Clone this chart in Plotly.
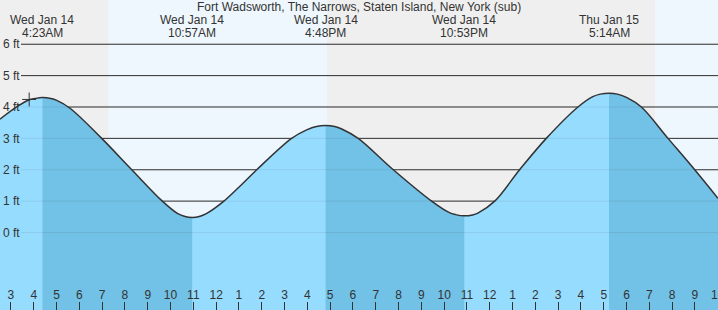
import plotly.graph_objects as go

TITLE = "Fort Wadsworth, The Narrows, Staten Island, New York (sub)"

# Tide readings: hours since midnight Wed Jan 14, height in ft
TIDE_HOURS = [2.52, 3.25, 3.8, 4.05, 4.383, 4.75, 5.01, 5.59, 6.98, 8.30, 9.64,
              10.3, 10.6, 10.95, 11.3, 11.59, 12.34, 13.02, 13.78, 15.31, 15.97,
              16.4, 16.8, 17.2, 17.51, 18.23, 19.77, 21.45, 22.21, 22.5, 22.883,
              23.25, 23.48, 24.22, 25.31, 26.48, 27.87, 28.52, 28.85, 29.233,
              29.6, 30.02, 30.65, 31.82, 32.99, 34.01]
TIDE_FT = [3.61, 4.0, 4.23, 4.27, 4.30, 4.27, 4.21, 3.96, 3.0, 2.0, 1.0,
           0.61, 0.52, 0.48, 0.52, 0.61, 1.0, 1.46, 2.0, 3.0, 3.27,
           3.38, 3.41, 3.38, 3.30, 3.0, 2.0, 1.0, 0.64, 0.57, 0.53,
           0.56, 0.62, 1.0, 2.0, 3.0, 4.0, 4.33, 4.41, 4.44,
           4.41, 4.30, 4.0, 3.0, 2.0, 1.09]

EVENT_HOURS = [4.383, 10.95, 16.8, 22.883, 29.233]
EVENT_KIND = ["high", "low", "high", "low", "high"]
EVENT_DAYS = ["Wed Jan 14", "Wed Jan 14", "Wed Jan 14", "Wed Jan 14", "Thu Jan 15"]
EVENT_TIMES = ["4:23AM", "10:57AM", "4:48PM", "10:53PM", "5:14AM"]

DAYLIGHT_START = [7.27, 31.25]
DAYLIGHT_END = [16.86, 34.5]

HOUR_TICKS = list(range(3, 35))
HOUR_LABELS = ["3", "4", "5", "6", "7", "8", "9", "10", "11", "12",
               "1", "2", "3", "4", "5", "6", "7", "8", "9", "10", "11", "12",
               "1", "2", "3", "4", "5", "6", "7", "8", "9", "10"]
MIDNIGHT_TICKS = [24]
FT_TICKS = [0, 1, 2, 3, 4, 5, 6]
FT_LABELS = ["0 ft", "1 ft", "2 ft", "3 ft", "4 ft", "5 ft", "6 ft"]

NOW_HOUR = [3.8]
NOW_FT = [4.24]

# ---- layout constants ----
W, H = 718, 310
PX_PER_HOUR = 22.8
X0 = 2.52
X1 = X0 + W / PX_PER_HOUR
Y0, Y1 = -2.47, 7.41
GRID_X0 = X0 + 21 / PX_PER_HOUR

NIGHT = "#efefef"
DAY = "#eef7fe"
LIGHT = "#96dcff"
DARK = "#72c1e6"
INK = "#333333"
FONT = "Liberation Sans, Arial, sans-serif"

fig = go.Figure()

# light fill (whole curve) on main subplot
fig.add_trace(go.Scatter(x=[X0, X1], y=[Y0, Y0], mode="lines", line=dict(width=0),
                         hoverinfo="skip", showlegend=False, xaxis="x", yaxis="y"))
fig.add_trace(go.Scatter(x=TIDE_HOURS, y=TIDE_FT, mode="lines", fill="tonexty",
                         fillcolor=LIGHT, line=dict(width=0, shape="spline"),
                         hoverinfo="skip", showlegend=False, xaxis="x", yaxis="y"))

# falling-tide segments (high -> next low) in darker blue, clipped by subplot domain
layout_axes = {}
ax_n = 2
for i, kind in enumerate(EVENT_KIND):
    if kind != "high":
        continue
    a = EVENT_HOURS[i]
    b = EVENT_HOURS[i + 1] if i + 1 < len(EVENT_HOURS) else X1
    b = min(b, X1)
    d0 = (a - X0) / (X1 - X0)
    d1 = (b - X0) / (X1 - X0)
    name = "x%d" % ax_n
    fig.add_trace(go.Scatter(x=[X0, X1], y=[Y0, Y0], mode="lines", line=dict(width=0),
                             hoverinfo="skip", showlegend=False, xaxis=name, yaxis="y"))
    fig.add_trace(go.Scatter(x=TIDE_HOURS, y=TIDE_FT, mode="lines", fill="tonexty",
                             fillcolor=DARK, line=dict(width=0, shape="spline"),
                             hoverinfo="skip", showlegend=False, xaxis=name, yaxis="y"))
    layout_axes["xaxis%d" % ax_n] = dict(domain=[d0, min(d1, 1)], range=[a, b],
                                         anchor="y", visible=False, fixedrange=True,
                                         automargin=False)
    ax_n += 1

TOP = ax_n  # top-most regular subplot: curve line, marker, hour ticks
top_name = "x%d" % TOP
fig.add_trace(go.Scatter(x=TIDE_HOURS, y=TIDE_FT, mode="lines",
                         line=dict(color=INK, width=1.5, shape="spline"),
                         hoverinfo="skip", showlegend=False, xaxis=top_name, yaxis="y"))
fig.add_trace(go.Scatter(x=NOW_HOUR, y=NOW_FT, mode="markers",
                         marker=dict(symbol="cross-thin", size=10,
                                     line=dict(color=INK, width=1)),
                         hoverinfo="skip", showlegend=False, xaxis=top_name, yaxis="y"))
# invisible carrier for the ft labels axis
fig.add_trace(go.Scatter(x=[X0], y=[Y0], mode="markers", marker=dict(opacity=0),
                         hoverinfo="skip", showlegend=False, xaxis="x", yaxis="y2"))

layout_axes["xaxis%d" % TOP] = dict(
    domain=[0, 1], range=[X0, X1], anchor="y", side="bottom",
    tickmode="array", tickvals=HOUR_TICKS, ticktext=HOUR_LABELS,
    ticks="inside", ticklen=8, tickwidth=1, tickcolor=INK,
    ticklabelposition="inside", ticklabeloverflow="allow", automargin=False,
    tickfont=dict(family=FONT, size=12, color=INK),
    showgrid=False, zeroline=False, showline=False, fixedrange=True)
layout_axes["xaxis%d" % (TOP + 1)] = dict(
    overlaying=top_name, range=[X0, X1], anchor="y", side="bottom",
    tickmode="array", tickvals=MIDNIGHT_TICKS, ticks="inside", ticklen=8,
    tickwidth=3, tickcolor=INK, showticklabels=False, automargin=False,
    showgrid=False, zeroline=False, showline=False, fixedrange=True)

shapes = []
for s, e in zip(DAYLIGHT_START, DAYLIGHT_END):
    shapes.append(dict(type="rect", xref="x", yref="paper", x0=s, x1=e, y0=0, y1=1,
                       fillcolor=DAY, line=dict(width=0), layer="below"))
for k in FT_TICKS:
    shapes.append(dict(type="line", xref="x", yref="y", x0=GRID_X0, x1=X1, y0=k, y1=k,
                       line=dict(color=INK, width=1), layer="below"))
for k in FT_TICKS:
    shapes.append(dict(type="line", xref="x", yref="y", x0=GRID_X0, x1=X1, y0=k, y1=k,
                       line=dict(color="rgba(40,40,40,0.09)", width=1), layer="above"))

annotations = [dict(text=TITLE, xref="paper", yref="paper", x=0.5, y=1 - 7.5 / H,
                    xanchor="center", yanchor="middle", showarrow=False,
                    font=dict(family=FONT, size=12, color=INK))]
for t, d, tm in zip(EVENT_HOURS, EVENT_DAYS, EVENT_TIMES):
    annotations.append(dict(text=d, xref="x", yref="paper", x=t, y=1 - 20 / H,
                            xanchor="center", yanchor="middle", showarrow=False,
                            font=dict(family=FONT, size=12, color=INK)))
    annotations.append(dict(text=tm, xref="x", yref="paper", x=t, y=1 - 32.5 / H,
                            xanchor="center", yanchor="middle", showarrow=False,
                            font=dict(family=FONT, size=12, color=INK)))

fig.update_layout(
    width=W, height=H, autosize=False,
    margin=dict(l=0, r=0, t=0, b=0, pad=0, autoexpand=False),
    paper_bgcolor=NIGHT, plot_bgcolor="rgba(0,0,0,0)",
    showlegend=False,
    xaxis=dict(domain=[0, 1], range=[X0, X1], visible=False, fixedrange=True,
               automargin=False),
    yaxis=dict(domain=[0, 1], range=[Y0, Y1], anchor="x", showticklabels=False,
               ticks="", showgrid=False, zeroline=False, showline=False,
               fixedrange=True, automargin=False),
    yaxis2=dict(overlaying="y", range=[Y0, Y1], anchor="x", side="left",
                tickmode="array", tickvals=FT_TICKS, ticktext=FT_LABELS,
                ticklabelposition="inside", ticks="", showgrid=False,
                zeroline=False, showline=False, fixedrange=True, automargin=False,
                tickfont=dict(family=FONT, size=12, color=INK)),
    shapes=shapes, annotations=annotations,
    **layout_axes,
)

fig.write_html("out.html", config={"displayModeBar": False, "staticPlot": True})
